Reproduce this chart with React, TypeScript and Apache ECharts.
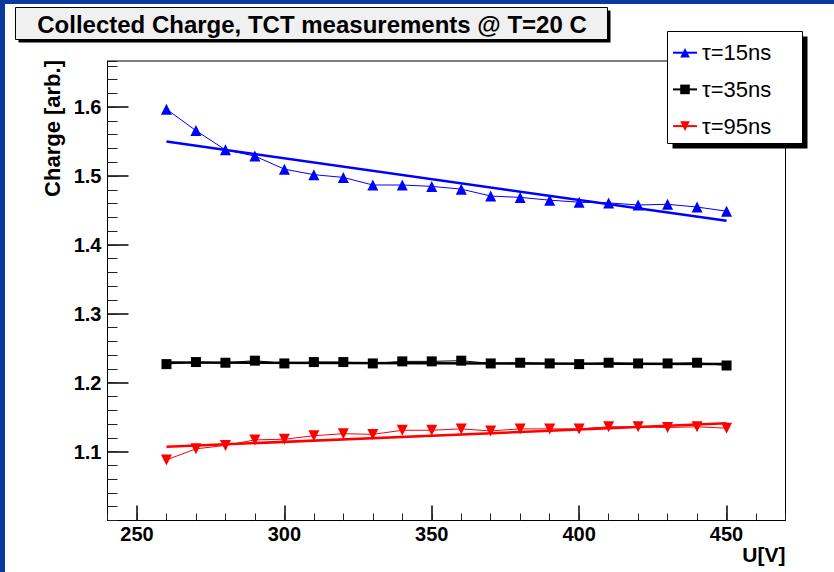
import React, { useEffect, useRef } from 'react';
import * as echarts from 'echarts';

// ---- data ----
const voltages = [260, 270, 280, 290, 300, 310, 320, 330, 340, 350, 360, 370, 380, 390, 400, 410, 420, 430, 440, 450];
const charge15 = [1.597, 1.566, 1.538, 1.529, 1.510, 1.502, 1.498, 1.487, 1.487, 1.485, 1.481, 1.471, 1.469, 1.465, 1.462, 1.461, 1.458, 1.459, 1.455, 1.449];
const charge35 = [1.227, 1.230, 1.229, 1.232, 1.228, 1.230, 1.230, 1.228, 1.231, 1.231, 1.232, 1.228, 1.229, 1.228, 1.227, 1.229, 1.228, 1.228, 1.229, 1.225];
const charge95 = [1.088, 1.104, 1.109, 1.117, 1.118, 1.123, 1.126, 1.125, 1.131, 1.131, 1.133, 1.130, 1.133, 1.133, 1.133, 1.136, 1.136, 1.135, 1.136, 1.134];
const fitRange = [260, 450];
const fit15 = [1.550, 1.435];
const fit35 = [1.2295, 1.2270];
const fit95 = [1.107, 1.141];
const seriesNames = ['τ=15ns', 'τ=35ns', 'τ=95ns'];
const titleText = 'Collected Charge, TCT measurements @ T=20 C';
const xTitle = 'U[V]';
const yTitle = 'Charge [arb.]';

const FONT = "'Liberation Sans', Arial, Helvetica, sans-serif";
const BLUE = '#0000ff';
const RED = '#ff0000';
const BLACK = '#000000';
const FRAME_BLUE = '#0a3a9e';

const pts = (ys: number[]) => voltages.map((v, i) => [v, ys[i]]);
const fitPts = (ys: number[]) => fitRange.map((v, i) => [v, ys[i]]);

export default function App() {
  const ref = useRef<HTMLDivElement>(null);

  useEffect(() => {
    if (!ref.current) return;
    const chart = echarts.init(ref.current, null, { renderer: 'svg' });

    const majorTick = (len: number) => ({ show: true, inside: true, length: len, lineStyle: { color: '#000', width: 1.5 } });
    const minorTick = (len: number) => ({ show: true, inside: true, length: len, lineStyle: { color: '#222', width: 1 } });
    const labelStyle = { fontFamily: FONT, fontWeight: 'bold' as const, fontSize: 20, color: '#000' };

    const dataSeries = (name: string, ys: number[], color: string, symbol: string, size: number, rotate: number) => ({
      name,
      type: 'line',
      data: pts(ys),
      symbol,
      symbolSize: size,
      symbolRotate: rotate,
      lineStyle: { color, width: 1 },
      itemStyle: { color },
      z: 3,
    });
    const fitSeries = (name: string, ys: number[], color: string) => ({
      name,
      type: 'line',
      data: fitPts(ys),
      symbol: 'none',
      lineStyle: { color, width: 2.5 },
      z: 4,
      silent: true,
    });

    chart.setOption({
      animation: false,
      backgroundColor: '#ffffff',
      grid: {
        left: 107.5,
        right: 48.5,
        top: 61,
        bottom: 51.5,
        show: true,
        borderColor: '#000',
        borderWidth: 1,
        backgroundColor: '#fff',
        containLabel: false,
        outerBoundsMode: 'none',
      },
      xAxis: [
        {
          type: 'value', position: 'bottom', min: 240, max: 470, minInterval: 50, maxInterval: 50, splitNumber: 5,
          axisLine: { show: true, onZero: false, lineStyle: { color: '#000', width: 1 } },
          axisTick: majorTick(15),
          axisLabel: { ...labelStyle, margin: 3, showMinLabel: false, showMaxLabel: false },
          splitLine: { show: false },
        },
        {
          type: 'value', position: 'bottom', min: 240, max: 470, minInterval: 10, maxInterval: 10, splitNumber: 23,
          axisLine: { show: false, onZero: false },
          axisTick: minorTick(7),
          axisLabel: { show: false },
          splitLine: { show: false },
        },
      ],
      yAxis: [
        {
          type: 'value', position: 'left', min: 1.0, max: 1.667, minInterval: 0.1, maxInterval: 0.1, splitNumber: 7,
          axisLine: { show: true, onZero: false, lineStyle: { color: '#000', width: 1 } },
          axisTick: majorTick(21),
          axisLabel: { ...labelStyle, margin: 6, showMinLabel: false, showMaxLabel: false, formatter: (v: number) => v.toFixed(1) },
          splitLine: { show: false },
        },
        {
          type: 'value', position: 'left', min: 1.0, max: 1.667, minInterval: 0.02, maxInterval: 0.02, splitNumber: 33,
          axisLine: { show: false, onZero: false },
          axisTick: minorTick(10),
          axisLabel: { show: false },
          splitLine: { show: false },
        },
      ],
      legend: {
        data: seriesNames,
        orient: 'vertical',
        left: 672,
        top: 41.7,
        itemWidth: 24,
        itemHeight: 12,
        itemGap: 14.7,
        padding: 0,
        selectedMode: false,
        textStyle: { fontFamily: FONT, fontSize: 22, color: '#000', lineHeight: 22 },
        z: 20,
      },
      graphic: [
        { type: 'rect', z: 30, shape: { x: 0, y: 0, width: 5, height: 572 }, style: { fill: FRAME_BLUE } },
        { type: 'rect', z: 30, shape: { x: 0, y: 0, width: 834, height: 4 }, style: { fill: FRAME_BLUE } },
        { type: 'rect', z: 10, shape: { x: 18.5, y: 10.5, width: 592, height: 32 }, style: { fill: '#000' } },
        { type: 'rect', z: 11, shape: { x: 15.5, y: 7.5, width: 592, height: 32 }, style: { fill: '#f0f0f0', stroke: '#000', lineWidth: 1 } },
        {
          type: 'text', z: 12, x: 312, y: 24,
          style: { text: titleText, fill: '#000', font: `bold 24px ${FONT}`, align: 'center', verticalAlign: 'middle', textAlign: 'center', textVerticalAlign: 'middle' },
        },
        { type: 'rect', z: 10, shape: { x: 672.5, y: 36.5, width: 135, height: 112 }, style: { fill: '#000' } },
        { type: 'rect', z: 11, shape: { x: 667.5, y: 31.5, width: 135, height: 112 }, style: { fill: '#fff', stroke: '#000', lineWidth: 1 } },
        {
          type: 'text', z: 12, x: 52, y: 60, rotation: Math.PI / 2,
          style: { text: yTitle, fill: '#000', font: `bold 22px ${FONT}`, align: 'right', verticalAlign: 'middle', textAlign: 'right', textVerticalAlign: 'middle' },
        },
        {
          type: 'text', z: 12, x: 785.5, y: 554,
          style: { text: xTitle, fill: '#000', font: `bold 21px ${FONT}`, align: 'right', verticalAlign: 'middle', textAlign: 'right', textVerticalAlign: 'middle' },
        },
      ],
      series: [
        dataSeries(seriesNames[0], charge15, BLUE, 'triangle', 11, 0),
        dataSeries(seriesNames[1], charge35, BLACK, 'rect', 10, 0),
        dataSeries(seriesNames[2], charge95, RED, 'triangle', 11, 180),
        fitSeries('fit15', fit15, BLUE),
        fitSeries('fit35', fit35, BLACK),
        fitSeries('fit95', fit95, RED),
      ],
    });

    return () => chart.dispose();
  }, []);

  return (
    <div
      ref={ref}
      style={{ position: 'fixed', left: 0, top: 0, width: 834, height: 572, background: '#fff' }}
    />
  );
}
